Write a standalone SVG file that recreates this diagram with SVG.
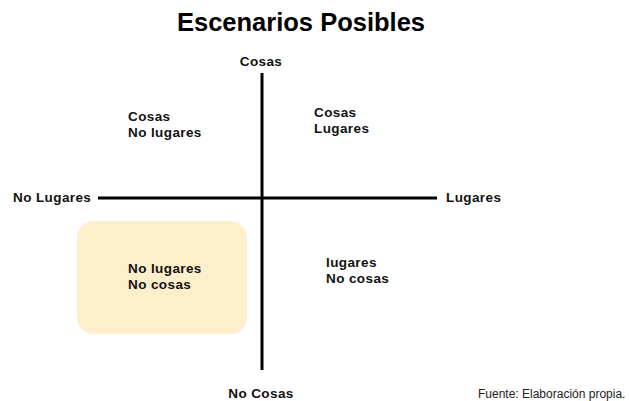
<svg xmlns="http://www.w3.org/2000/svg" width="629" height="401" viewBox="0 0 629 401">
<style>
.t{font-family:"Liberation Sans",Arial,sans-serif;font-weight:bold;font-size:13.5px;letter-spacing:0.4px;fill:#111}
.title{font-family:"Liberation Sans",Arial,sans-serif;font-weight:bold;font-size:25.5px;fill:#000}
.src{font-family:"Liberation Sans",Arial,sans-serif;font-size:12px;fill:#222}
.axis{stroke:#000;stroke-width:3;fill:none}
</style>
<rect width="629" height="401" fill="#fff"/>
<text class="title" x="301" y="31" text-anchor="middle">Escenarios Posibles</text>
<g id="connectors">
<line class="axis" x1="262" y1="73" x2="262" y2="370"/>
<line class="axis" x1="98" y1="198" x2="437" y2="198"/>
</g>
<g id="axis-top"><text class="t" x="261" y="66" text-anchor="middle">Cosas</text></g>
<g id="axis-bottom"><text class="t" x="261" y="398" text-anchor="middle">No Cosas</text></g>
<g id="axis-left"><text class="t" x="13" y="202">No Lugares</text></g>
<g id="axis-right"><text class="t" x="446" y="202">Lugares</text></g>
<g id="q-topleft"><text class="t" x="128" y="121">Cosas</text><text class="t" x="128" y="137">No lugares</text></g>
<g id="q-topright"><text class="t" x="314" y="117">Cosas</text><text class="t" x="314" y="133">Lugares</text></g>
<g id="q-bottomleft">
<rect x="77" y="221" width="170" height="113" rx="17" fill="#fdefcc"/>
<text class="t" x="128" y="273">No lugares</text><text class="t" x="128" y="289">No cosas</text></g>
<g id="q-bottomright"><text class="t" x="326" y="267">lugares</text><text class="t" x="326" y="283">No cosas</text></g>
<text class="src" x="478" y="398">Fuente: Elaboración propia.</text>
</svg>
